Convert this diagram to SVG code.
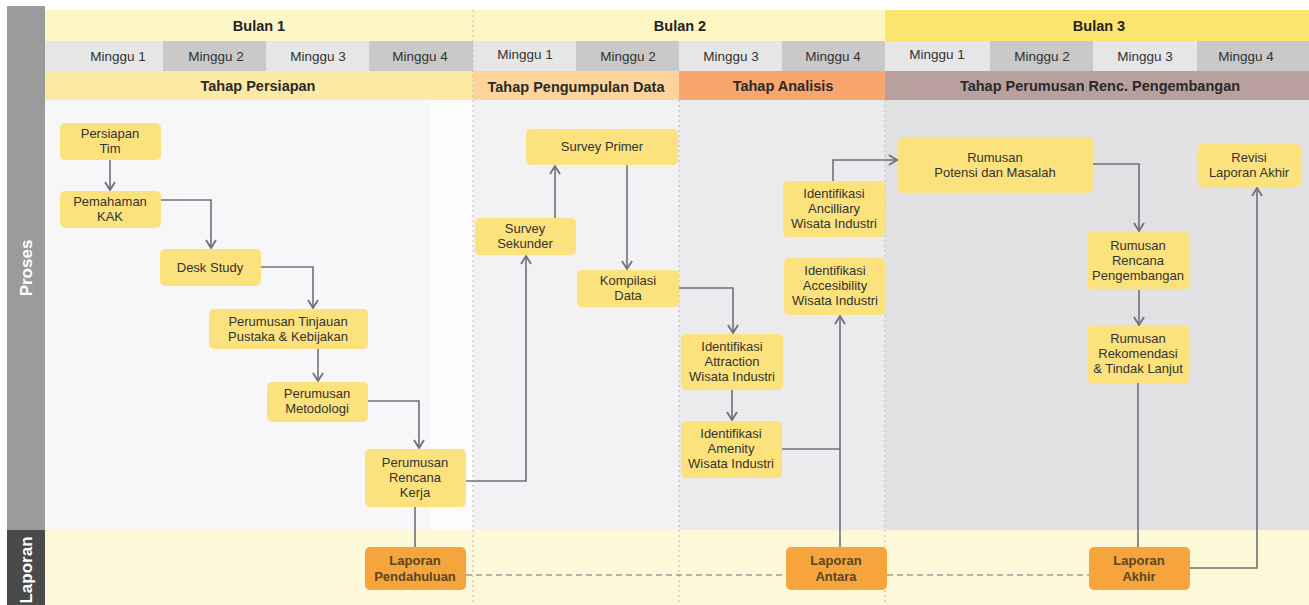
<svg xmlns="http://www.w3.org/2000/svg" width="1309" height="605" viewBox="0 0 1309 605">
<defs>
<style>
text{font-family:"Liberation Sans",Arial,sans-serif;text-anchor:middle}
.hdr{font-size:14.5px;font-weight:bold;fill:#222}
.wk{font-size:13.5px;fill:#333}
.tp{font-size:14.5px;font-weight:bold;fill:#2a2a2a}
.nt{font-size:13px;fill:#333}
.lt{font-size:13px;font-weight:bold;fill:#5a4526}
.side{font-size:17px;font-weight:bold;fill:#fff}
.node{fill:#fce27c}
.lap{fill:#f5a53b}
.wl{fill:#e6e6e6}
.wd{fill:#c9c9c9}
.con{fill:none;stroke:#6d717a;stroke-width:1.6}
.dash{fill:none;stroke:#6d717a;stroke-width:1.2;stroke-dasharray:6 4}
.dot{stroke:#c4c4c4;stroke-width:1.2;stroke-dasharray:2 3}
</style>
<marker id="ar" viewBox="0 0 12 12" refX="11" refY="6" markerWidth="12" markerHeight="12" markerUnits="userSpaceOnUse" orient="auto">
<path d="M3,1 L11,6 L3,11" fill="none" stroke="#6d717a" stroke-width="1.8"/>
</marker>
</defs>
<rect width="1309" height="605" fill="#ffffff"/>
<g id="backgrounds">
<rect x="45" y="100" width="385" height="430" fill="#f7f7f9"/>
<rect x="430" y="100" width="43" height="430" fill="#fcfcfc"/>
<rect x="473" y="100" width="206" height="430" fill="#f2f2f4"/>
<rect x="679" y="100" width="206" height="430" fill="#ebebed"/>
<rect x="885" y="100" width="424" height="430" fill="#e1e1e3"/>
<rect x="45" y="530" width="1264" height="75" fill="#fdf8d8"/>
</g>
<g id="side">
<rect x="7" y="6" width="38" height="524" fill="#9b9b9b"/>
<rect x="7" y="530" width="38" height="75" fill="#4a4a4a"/>
<text class="side" transform="translate(32,268) rotate(-90)">Proses</text>
<text class="side" transform="translate(32,570) rotate(-90)">Laporan</text>
</g>
<g id="header">
<rect x="45" y="10" width="428" height="31" fill="#fdf6c6"/>
<rect x="473" y="10" width="412" height="31" fill="#fdf5c2"/>
<rect x="885" y="10" width="424" height="31" fill="#fde46c"/>
<text class="hdr" x="259" y="31">Bulan 1</text>
<text class="hdr" x="680" y="31">Bulan 2</text>
<text class="hdr" x="1099" y="31">Bulan 3</text>
<rect class="wl" x="45" y="41" width="118" height="30"/>
<rect class="wd" x="163" y="41" width="103" height="30"/>
<rect class="wl" x="266" y="41" width="103" height="30"/>
<rect class="wd" x="369" y="41" width="104" height="30"/>
<rect class="wl" x="473" y="41" width="103" height="30"/>
<rect class="wd" x="576" y="41" width="103" height="30"/>
<rect class="wl" x="679" y="41" width="103" height="30"/>
<rect class="wd" x="782" y="41" width="103" height="30"/>
<rect class="wl" x="885" y="41" width="105" height="30"/>
<rect class="wd" x="990" y="41" width="103" height="30"/>
<rect class="wl" x="1093" y="41" width="104" height="30"/>
<rect class="wd" x="1197" y="41" width="112" height="30"/>
<text class="wk" x="118" y="61">Minggu 1</text>
<text class="wk" x="216" y="61">Minggu 2</text>
<text class="wk" x="318" y="61">Minggu 3</text>
<text class="wk" x="420" y="61">Minggu 4</text>
<text class="wk" x="525" y="59">Minggu 1</text>
<text class="wk" x="628" y="61">Minggu 2</text>
<text class="wk" x="731" y="61">Minggu 3</text>
<text class="wk" x="833" y="61">Minggu 4</text>
<text class="wk" x="937" y="59">Minggu 1</text>
<text class="wk" x="1042" y="61">Minggu 2</text>
<text class="wk" x="1145" y="61">Minggu 3</text>
<text class="wk" x="1246" y="61">Minggu 4</text>
<rect x="45" y="71" width="428" height="29" fill="#fce9a2"/>
<rect x="473" y="71" width="206" height="29" fill="#fdd59c"/>
<rect x="679" y="71" width="206" height="29" fill="#f9a56e"/>
<rect x="885" y="71" width="424" height="29" fill="#b8a09e"/>
<text class="tp" x="258" y="91">Tahap Persiapan</text>
<text class="tp" x="576" y="92">Tahap Pengumpulan Data</text>
<text class="tp" x="783" y="91">Tahap Analisis</text>
<text class="tp" x="1100" y="91">Tahap Perumusan Renc. Pengembangan</text>
</g>
<g id="dividers">
<line class="dot" x1="473" y1="10" x2="473" y2="605"/>
<line class="dot" x1="679" y1="100" x2="679" y2="605"/>
<line class="dot" x1="885" y1="100" x2="885" y2="605"/>
</g>
<g id="connectors">
<path class="con" d="M110,160 V190" marker-end="url(#ar)"/>
<path class="con" d="M161,200 H211 V248" marker-end="url(#ar)"/>
<path class="con" d="M261,267 H313 V308" marker-end="url(#ar)"/>
<path class="con" d="M318,349 V381" marker-end="url(#ar)"/>
<path class="con" d="M368,401 H419 V448" marker-end="url(#ar)"/>
<path class="con" d="M415,507 V547"/>
<path class="con" d="M466,481 H526 V256" marker-end="url(#ar)"/>
<path class="con" d="M555,218 V166" marker-end="url(#ar)"/>
<path class="con" d="M627,165 V269" marker-end="url(#ar)"/>
<path class="con" d="M679,288 H733 V333" marker-end="url(#ar)"/>
<path class="con" d="M732,390 V420" marker-end="url(#ar)"/>
<path class="con" d="M782,449 H840"/>
<path class="con" d="M840,547 V316" marker-end="url(#ar)"/>
<path class="con" d="M833,181 V160 H897" marker-end="url(#ar)"/>
<path class="con" d="M1093,164 H1139 V231" marker-end="url(#ar)"/>
<path class="con" d="M1139,290 V325" marker-end="url(#ar)"/>
<path class="con" d="M1138,383 V547"/>
<path class="con" d="M1190,568 H1257 V188" marker-end="url(#ar)"/>
<path class="dash" d="M466,575 H786"/>
<path class="dash" d="M887,575 H1089"/>
</g>
<g id="n-persiapan-tim"><rect class="node" x="60" y="123" width="101" height="37" rx="5"/><text class="nt" x="110" y="138">Persiapan</text><text class="nt" x="110" y="153">Tim</text></g>
<g id="n-pemahaman"><rect class="node" x="60" y="191" width="101" height="37" rx="5"/><text class="nt" x="110" y="206">Pemahaman</text><text class="nt" x="110" y="221">KAK</text></g>
<g id="n-desk-study"><rect class="node" x="160" y="249" width="101" height="37" rx="5"/><text class="nt" x="210" y="272">Desk Study</text></g>
<g id="n-tinjauan"><rect class="node" x="209" y="309" width="159" height="40" rx="5"/><text class="nt" x="288" y="326">Perumusan Tinjauan</text><text class="nt" x="288" y="341">Pustaka &amp; Kebijakan</text></g>
<g id="n-metodologi"><rect class="node" x="267" y="382" width="101" height="40" rx="5"/><text class="nt" x="317" y="398">Perumusan</text><text class="nt" x="317" y="413">Metodologi</text></g>
<g id="n-rencana-kerja"><rect class="node" x="365" y="449" width="101" height="58" rx="5"/><text class="nt" x="415" y="467">Perumusan</text><text class="nt" x="415" y="482">Rencana</text><text class="nt" x="415" y="497">Kerja</text></g>
<g id="n-lap-pendahuluan"><rect class="lap" x="365" y="547" width="101" height="43" rx="5"/><text class="lt" x="415" y="565">Laporan</text><text class="lt" x="415" y="581">Pendahuluan</text></g>
<g id="n-survey-sekunder"><rect class="node" x="475" y="218" width="101" height="37" rx="5"/><text class="nt" x="525" y="233">Survey</text><text class="nt" x="525" y="248">Sekunder</text></g>
<g id="n-survey-primer"><rect class="node" x="526" y="129" width="152" height="36" rx="5"/><text class="nt" x="602" y="151">Survey Primer</text></g>
<g id="n-kompilasi"><rect class="node" x="577" y="270" width="102" height="37" rx="5"/><text class="nt" x="628" y="285">Kompilasi</text><text class="nt" x="628" y="300">Data</text></g>
<g id="n-attraction"><rect class="node" x="681" y="334" width="102" height="56" rx="5"/><text class="nt" x="732" y="351">Identifikasi</text><text class="nt" x="732" y="366">Attraction</text><text class="nt" x="732" y="381">Wisata Industri</text></g>
<g id="n-amenity"><rect class="node" x="681" y="421" width="101" height="57" rx="5"/><text class="nt" x="731" y="438">Identifikasi</text><text class="nt" x="731" y="453">Amenity</text><text class="nt" x="731" y="468">Wisata Industri</text></g>
<g id="n-ancilliary"><rect class="node" x="783" y="181" width="102" height="56" rx="5"/><text class="nt" x="834" y="198">Identifikasi</text><text class="nt" x="834" y="213">Ancilliary</text><text class="nt" x="834" y="228">Wisata Industri</text></g>
<g id="n-accesibility"><rect class="node" x="784" y="258" width="102" height="57" rx="5"/><text class="nt" x="835" y="275">Identifikasi</text><text class="nt" x="835" y="290">Accesibility</text><text class="nt" x="835" y="305">Wisata Industri</text></g>
<g id="n-lap-antara"><rect class="lap" x="786" y="547" width="101" height="43" rx="5"/><text class="lt" x="836" y="565">Laporan</text><text class="lt" x="836" y="581">Antara</text></g>
<g id="n-potensi"><rect class="node" x="898" y="137" width="195" height="56" rx="5"/><text class="nt" x="995" y="162">Rumusan</text><text class="nt" x="995" y="177">Potensi dan Masalah</text></g>
<g id="n-rencana-pengembangan"><rect class="node" x="1087" y="232" width="103" height="58" rx="5"/><text class="nt" x="1138" y="250">Rumusan</text><text class="nt" x="1138" y="265">Rencana</text><text class="nt" x="1138" y="280">Pengembangan</text></g>
<g id="n-rekomendasi"><rect class="node" x="1087" y="326" width="103" height="57" rx="5"/><text class="nt" x="1138" y="343">Rumusan</text><text class="nt" x="1138" y="358">Rekomendasi</text><text class="nt" x="1138" y="373">&amp; Tindak Lanjut</text></g>
<g id="n-lap-akhir"><rect class="lap" x="1089" y="547" width="101" height="43" rx="5"/><text class="lt" x="1139" y="565">Laporan</text><text class="lt" x="1139" y="581">Akhir</text></g>
<g id="n-revisi"><rect class="node" x="1198" y="144" width="103" height="43" rx="5"/><text class="nt" x="1249" y="162">Revisi</text><text class="nt" x="1249" y="177">Laporan Akhir</text></g>
</svg>
